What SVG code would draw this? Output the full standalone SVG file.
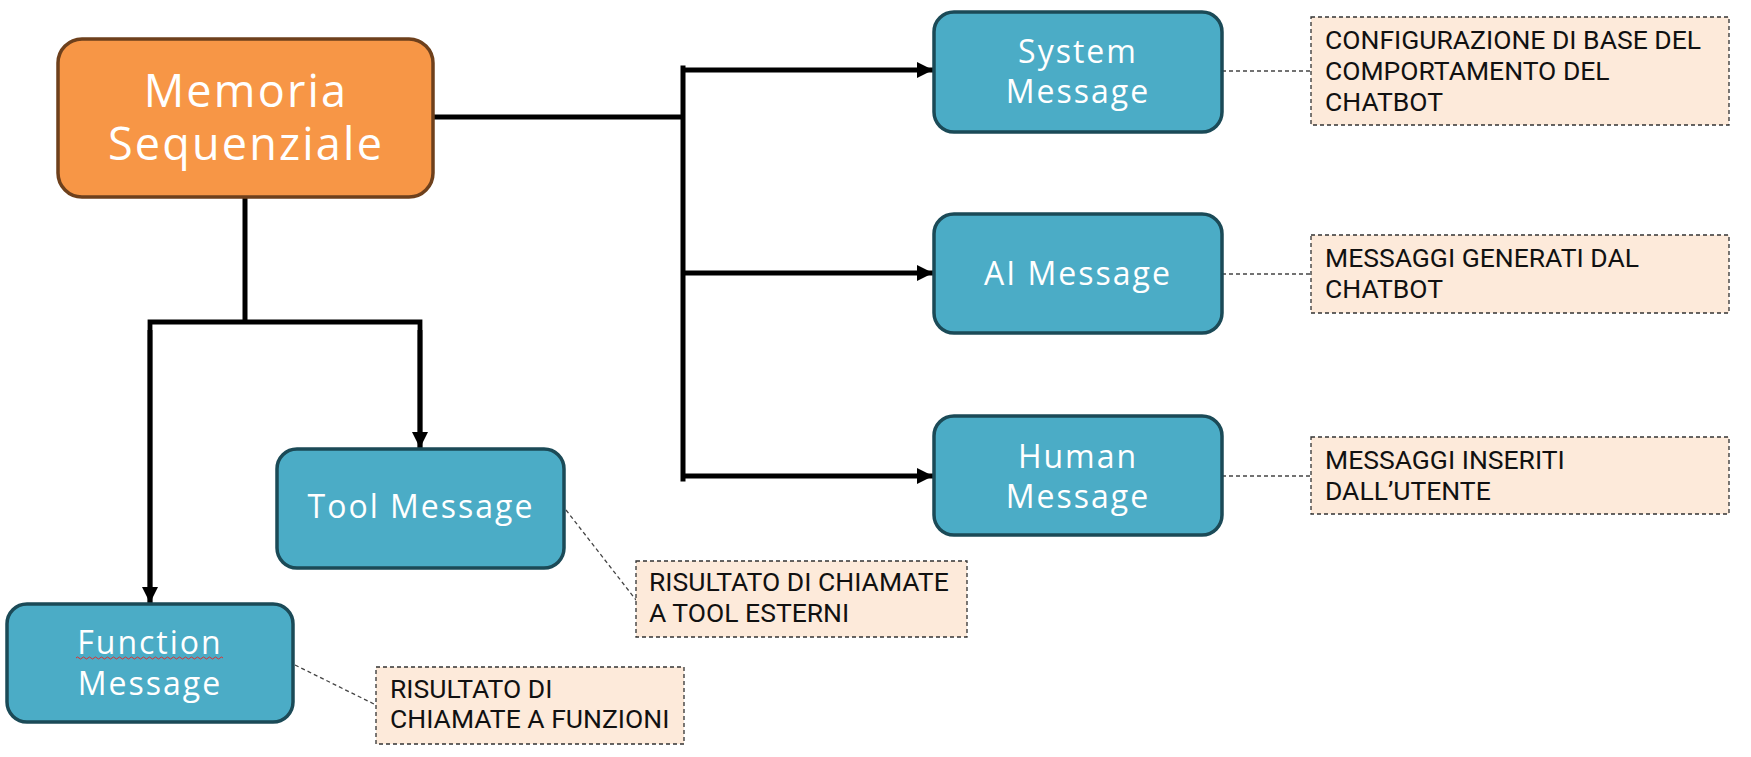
<svg xmlns="http://www.w3.org/2000/svg" width="1751" height="757" viewBox="0 0 1751 757">
<style>
.blue{fill:#4BACC6;stroke:#1B4A57;stroke-width:3.5}
.orange{fill:#F79646;stroke:#6E401C;stroke-width:3.5}
.note{fill:#FDEADA;stroke:#333;stroke-width:1.3;stroke-dasharray:4 3}
.bt{fill:#fff;font-family:"Open Sans","DejaVu Sans",sans-serif;font-size:32px;letter-spacing:2px;text-anchor:middle}
.mt{fill:#fff;font-family:"Open Sans","DejaVu Sans",sans-serif;font-size:45px;letter-spacing:2.2px;text-anchor:middle}
.nt{fill:#111;font-family:Roboto,"Liberation Sans",sans-serif;font-size:26.5px}
.wire{fill:none;stroke:#000;stroke-width:5}
.lead{fill:none;stroke:#444;stroke-width:1.3;stroke-dasharray:4 3}
</style>
<defs>
<marker id="arr" viewBox="0 0 16 16" refX="16" refY="8" markerWidth="16" markerHeight="16" markerUnits="userSpaceOnUse" orient="auto">
<path d="M0,0 L16,8 L0,16 Z" fill="#000"/>
</marker>
</defs>
<g id="connectors">
<polyline class="wire" points="433,117 683,117"/>
<line class="wire" x1="683" y1="68" x2="683" y2="479" stroke-linecap="square"/>
<line class="wire" x1="681" y1="70" x2="933" y2="70" marker-end="url(#arr)"/>
<line class="wire" x1="681" y1="273" x2="933" y2="273" marker-end="url(#arr)"/>
<line class="wire" x1="681" y1="476" x2="933" y2="476" marker-end="url(#arr)"/>
<line class="wire" x1="245" y1="197" x2="245" y2="322"/>
<polyline class="wire" points="150,603 150,322 420,322 420,448" style="stroke-width:4.8"/>
<line class="wire" x1="150" y1="330" x2="150" y2="603" style="stroke-width:4.8" marker-end="url(#arr)"/>
<line class="wire" x1="420" y1="330" x2="420" y2="448" style="stroke-width:4.8" marker-end="url(#arr)"/>
<line class="lead" x1="1222" y1="71" x2="1311" y2="71"/>
<line class="lead" x1="1222" y1="274" x2="1311" y2="274"/>
<line class="lead" x1="1222" y1="476" x2="1311" y2="476"/>
<line class="lead" x1="566" y1="510" x2="636" y2="600"/>
<line class="lead" x1="295" y1="665" x2="376" y2="705"/>
</g>
<g id="memoria">
<rect class="orange" x="58" y="39" width="375" height="158" rx="24"/>
<text class="mt" x="246" y="107">Memoria</text>
<text class="mt" x="246" y="160">Sequenziale</text>
</g>
<g id="system">
<rect class="blue" x="934" y="12" width="288" height="120" rx="20"/>
<text class="bt" x="1078" y="63">System</text>
<text class="bt" x="1078" y="103">Message</text>
</g>
<g id="ai">
<rect class="blue" x="934" y="214" width="288" height="119" rx="20"/>
<text class="bt" x="1078" y="285">AI Message</text>
</g>
<g id="human">
<rect class="blue" x="934" y="416" width="288" height="119" rx="20"/>
<text class="bt" x="1078" y="468">Human</text>
<text class="bt" x="1078" y="508">Message</text>
</g>
<g id="tool">
<rect class="blue" x="277" y="449" width="287" height="119" rx="20"/>
<text class="bt" x="421" y="518">Tool Message</text>
</g>
<g id="function">
<rect class="blue" x="7" y="604" width="286" height="118" rx="20"/>
<text class="bt" x="150" y="654">Function</text>
<path d="M76,658 q1.5,-2 3,0 t3,0 t3,0 t3,0 t3,0 t3,0 t3,0 t3,0 t3,0 t3,0 t3,0 t3,0 t3,0 t3,0 t3,0 t3,0 t3,0 t3,0 t3,0 t3,0 t3,0 t3,0 t3,0 t3,0 t3,0 t3,0 t3,0 t3,0 t3,0 t3,0 t3,0 t3,0 t3,0 t3,0 t3,0 t3,0 t3,0 t3,0 t3,0 t3,0 t3,0 t3,0 t3,0 t3,0 t3,0 t3,0 t3,0 t3,0 t3,0" fill="none" stroke="#E03030" stroke-width="1"/>
<text class="bt" x="150" y="695">Message</text>
</g>
<g id="note-system">
<rect class="note" x="1311" y="17" width="418" height="108"/>
<text class="nt" x="1325" y="49">CONFIGURAZIONE DI BASE DEL</text>
<text class="nt" x="1325" y="80">COMPORTAMENTO DEL</text>
<text class="nt" x="1325" y="111">CHATBOT</text>
</g>
<g id="note-ai">
<rect class="note" x="1311" y="235" width="418" height="78"/>
<text class="nt" x="1325" y="267">MESSAGGI GENERATI DAL</text>
<text class="nt" x="1325" y="298">CHATBOT</text>
</g>
<g id="note-human">
<rect class="note" x="1311" y="437" width="418" height="77"/>
<text class="nt" x="1325" y="469">MESSAGGI INSERITI</text>
<text class="nt" x="1325" y="500">DALL’UTENTE</text>
</g>
<g id="note-tool">
<rect class="note" x="636" y="561" width="331" height="76"/>
<text class="nt" x="649" y="591">RISULTATO DI CHIAMATE</text>
<text class="nt" x="649" y="622">A TOOL ESTERNI</text>
</g>
<g id="note-function">
<rect class="note" x="376" y="667" width="308" height="77"/>
<text class="nt" x="390" y="698">RISULTATO DI</text>
<text class="nt" x="390" y="728">CHIAMATE A FUNZIONI</text>
</g>
</svg>
